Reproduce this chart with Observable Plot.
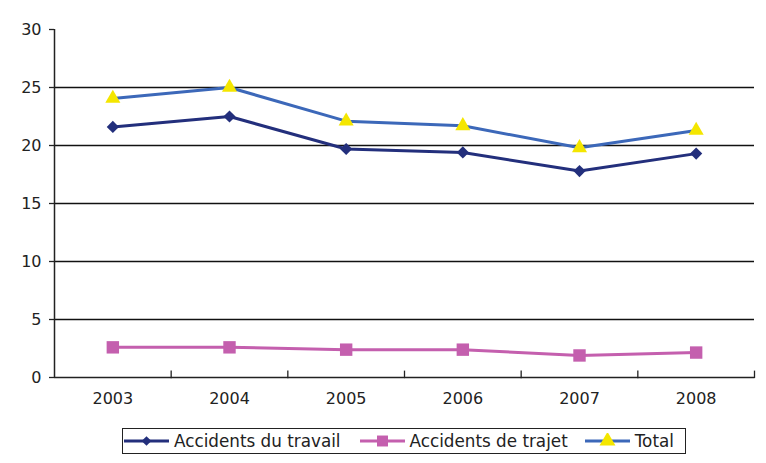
<!DOCTYPE html>
<html><head><meta charset="utf-8">
<script src="https://cdn.jsdelivr.net/npm/d3@7"></script>
<script src="https://cdn.jsdelivr.net/npm/@observablehq/plot@0.6"></script>
<style>
body{margin:0;background:#fff;font-family:"DejaVu Sans",Verdana,sans-serif;}
#chart{width:766px;height:463px;position:relative;}
#legend{position:absolute;left:122px;top:428px;width:564px;height:26px;border:1.5px solid #222;box-sizing:border-box;display:flex;align-items:center;font-size:16.8px;color:#222;white-space:nowrap;padding-left:1px;}
#legend .it{display:flex;align-items:center;}
#legend svg{margin-right:5px;}
</style></head><body>
<div id="chart"><div id="plot"></div><div id="legend"></div></div>
<script>
const years = [2003, 2004, 2005, 2006, 2007, 2008];
const travail = [21.6, 22.5, 19.7, 19.4, 17.8, 19.3];
const trajet = [2.6, 2.6, 2.4, 2.4, 1.9, 2.15];
const total = [24.05, 25.0, 22.1, 21.7, 19.8, 21.3];
const yTicks = [0, 5, 10, 15, 20, 25, 30];
const gridValues = [5, 10, 15, 20, 25];
const seriesNames = ["Accidents du travail", "Accidents de trajet", "Total"];

const cTravail = "#232f7c", cTrajet = "#c45fae", cTotal = "#3c68b9", cYellow = "#f4e600";

const mk = (arr, name) => years.map((y, i) => ({year: y, value: arr[i], series: name}));
const dTravail = mk(travail, seriesNames[0]);
const dTrajet = mk(trajet, seriesNames[1]);
const dTotal = mk(total, seriesNames[2]);
const boundaries = years.map(y => y + 0.5);

const plot = Plot.plot({
  width: 766, height: 424,
  marginLeft: 54, marginRight: 12, marginTop: 29, marginBottom: 47,
  style: {fontFamily: "DejaVu Sans, Verdana, sans-serif", fontSize: "16px", color: "#222", background: "#fff"},
  x: {domain: [years[0] - 0.5, years[years.length - 1] + 0.5], axis: null, label: null},
  y: {domain: [0, 30], axis: null, label: null},
  marks: [
    Plot.ruleY(gridValues, {stroke: "#111", strokeWidth: 1.3}),
    Plot.ruleY([0], {stroke: "#222", strokeWidth: 1.5}),
    Plot.ruleX([years[0] - 0.5], {y1: 0, y2: 30, stroke: "#222", strokeWidth: 1.5}),
    Plot.ruleX(boundaries, {y1: -0.1, y2: 0.55, stroke: "#222", strokeWidth: 1.3}),
    Plot.axisY(yTicks, {tickSize: 5, tickPadding: 8, stroke: "#222", strokeWidth: 1.3, fontSize: 16, fill: "#222", label: null}),
    Plot.axisX(years, {tickSize: 0, tickPadding: 15, tickFormat: d => String(d), fontSize: 16, fill: "#222", label: null}),
    Plot.line(dTrajet, {x: "year", y: "value", stroke: cTrajet, strokeWidth: 3}),
    Plot.dot(dTrajet, {x: "year", y: "value", symbol: "square", r: 7, fill: cTrajet, stroke: "none"}),
    Plot.line(dTravail, {x: "year", y: "value", stroke: cTravail, strokeWidth: 3}),
    Plot.dot(dTravail, {x: "year", y: "value", symbol: "diamond2", r: 5.5, fill: cTravail, stroke: "none"}),
    Plot.line(dTotal, {x: "year", y: "value", stroke: cTotal, strokeWidth: 3}),
    Plot.dot(dTotal, {x: "year", y: "value", symbol: "triangle", r: 5.6, fill: cYellow, stroke: "none"})
  ]
});
document.getElementById("plot").appendChild(plot);

// legend
const legendItems = [
  {name: seriesNames[0], stroke: cTravail, fill: cTravail, sym: d3.symbolDiamond2, size: 60, gap: 19},
  {name: seriesNames[1], stroke: cTrajet, fill: cTrajet, sym: d3.symbolSquare, size: 120, gap: 17},
  {name: seriesNames[2], stroke: cTotal, fill: cYellow, sym: d3.symbolTriangle, size: 110, gap: 0}
];
const leg = d3.select("#legend");
legendItems.forEach(it => {
  const div = leg.append("div").attr("class", "it").style("margin-right", it.gap + "px");
  const s = div.append("svg").attr("width", 45).attr("height", 16);
  s.append("line").attr("x1", 0).attr("x2", 45).attr("y1", 8).attr("y2", 8).attr("stroke", it.stroke).attr("stroke-width", 3);
  s.append("path").attr("d", d3.symbol(it.sym, it.size)()).attr("transform", "translate(22.5,8)").attr("fill", it.fill);
  div.append("span").text(it.name);
});
</script>
</body></html>
